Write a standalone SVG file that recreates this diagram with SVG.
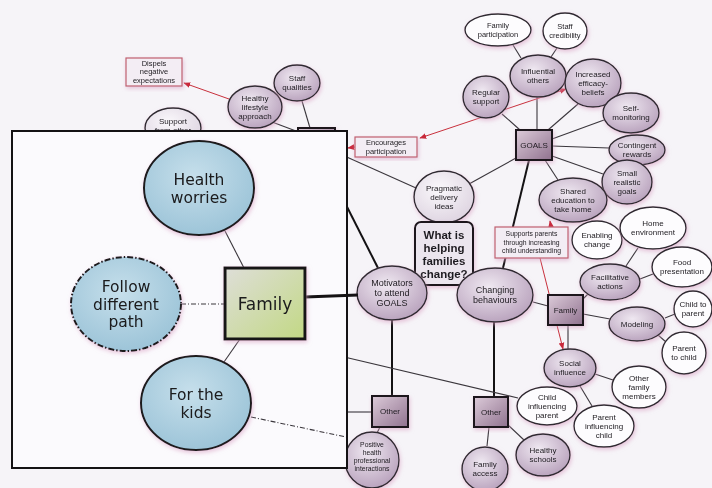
<svg xmlns="http://www.w3.org/2000/svg" width="712" height="488" viewBox="0 0 712 488">
  <defs>
    <radialGradient id="gP" cx="42%" cy="35%" r="70%">
      <stop offset="0" stop-color="#efe8f1"/>
      <stop offset="1" stop-color="#b7a0bb"/>
    </radialGradient>
    <radialGradient id="gL" cx="42%" cy="35%" r="70%">
      <stop offset="0" stop-color="#faf8fb"/>
      <stop offset="1" stop-color="#ddd3e0"/>
    </radialGradient>
    <linearGradient id="gB" x1="0" y1="0" x2="1" y2="1">
      <stop offset="0" stop-color="#dccbd9"/>
      <stop offset="1" stop-color="#90728f"/>
    </linearGradient>
    <radialGradient id="gBlue" cx="45%" cy="38%" r="70%">
      <stop offset="0" stop-color="#c6dfeb"/>
      <stop offset="1" stop-color="#98c1d6"/>
    </radialGradient>
    <linearGradient id="gFam" x1="0" y1="0" x2="1" y2="1">
      <stop offset="0" stop-color="#deded8"/>
      <stop offset="1" stop-color="#c2d884"/>
    </linearGradient>
    <filter id="halo" x="-20%" y="-20%" width="140%" height="140%">
      <feGaussianBlur in="SourceAlpha" stdDeviation="2" result="b"/>
      <feOffset in="b" dx="1" dy="1.5" result="o"/>
      <feFlood flood-color="#d9a2c4" flood-opacity="0.6"/>
      <feComposite operator="in" in2="o"/>
      <feMerge><feMergeNode/><feMergeNode in="SourceGraphic"/></feMerge>
    </filter>
    <marker id="ah" viewBox="0 0 10 10" refX="9" refY="5" markerWidth="7" markerHeight="7" orient="auto-start-reverse">
      <path d="M0,1 L10,5 L0,9 z" fill="#c8283a"/>
    </marker>
    <style>
      .p { fill: url(#gP); stroke: #2e2a30; stroke-width: 1.4; }
      .l { fill: url(#gL); stroke: #2e2a30; stroke-width: 1.4; }
      .w { fill: #fdfcfe; stroke: #2e2a30; stroke-width: 1.4; }
      .box { fill: url(#gB); stroke: #1c181e; stroke-width: 2; }
      .pink { fill: #f3edf4; stroke: #c0606e; stroke-width: 1.2; }
      .t { font-family: "Liberation Sans", Arial, sans-serif; font-size: 8px; fill: #1e1b20; text-anchor: middle; }
      .t9 { font-size: 9px; }
      .t7 { font-size: 7.5px; }
      .t6 { font-size: 6.8px; }
      .tq { font-size: 11.5px; font-weight: bold; }
      .ln { stroke: #3a363c; stroke-width: 1.1; fill: none; }
      .bk { stroke: #141214; stroke-width: 2; fill: none; }
      .red { stroke: #c8303c; stroke-width: 1; fill: none; }
      .blue { fill: url(#gBlue); stroke: #1c1a1e; stroke-width: 2; }
      .big { font-family: "DejaVu Sans", Verdana, sans-serif; font-size: 15.5px; fill: #1a1a1c; text-anchor: middle; }
      .big17 { font-size: 17px; }
      .nodes g { filter: url(#halo); }
    </style>
  </defs>

  <rect width="712" height="488" fill="#f6f4f8"/>

  <!-- main map connectors -->
  <g id="connectors">
    <line class="ln" x1="513" y1="45" x2="521" y2="58"/>
    <line class="ln" x1="557" y1="48" x2="551" y2="57"/>
    <line class="ln" x1="537" y1="97" x2="537" y2="130"/>
    <line class="ln" x1="502" y1="114" x2="520" y2="130"/>
    <line class="ln" x1="578" y1="104" x2="548" y2="130"/>
    <line class="ln" x1="604" y1="120" x2="552" y2="139"/>
    <line class="ln" x1="609" y1="148" x2="552" y2="146"/>
    <line class="ln" x1="603" y1="174" x2="552" y2="156"/>
    <line class="ln" x1="558" y1="180" x2="545" y2="160"/>
    <line class="ln" x1="469" y1="184" x2="516" y2="158"/>
    <line class="ln" x1="340" y1="154" x2="416" y2="188"/>
    <line class="bk" x1="529" y1="160" x2="503" y2="268"/>
    <line class="bk" x1="340" y1="193" x2="378" y2="268"/>
    <line class="bk" x1="392" y1="320" x2="392" y2="396"/>
    <line class="bk" x1="494" y1="322" x2="494" y2="397"/>
    <line class="ln" x1="533" y1="302" x2="548" y2="306"/>
    <line class="ln" x1="583" y1="299" x2="589" y2="293"/>
    <line class="ln" x1="583" y1="314" x2="610" y2="319"/>
    <line class="ln" x1="568" y1="325" x2="568" y2="349"/>
    <line class="ln" x1="626" y1="266" x2="638" y2="248"/>
    <line class="ln" x1="640" y1="279" x2="653" y2="274"/>
    <line class="ln" x1="665" y1="318" x2="675" y2="314"/>
    <line class="ln" x1="658" y1="335" x2="666" y2="342"/>
    <line class="ln" x1="595" y1="374" x2="613" y2="380"/>
    <line class="ln" x1="580" y1="386" x2="592" y2="406"/>
    <line class="ln" x1="489" y1="427" x2="487" y2="446"/>
    <line class="ln" x1="508" y1="425" x2="524" y2="440"/>
    <line class="ln" x1="380" y1="427" x2="377" y2="433"/>
    <line class="ln" x1="340" y1="412" x2="372" y2="412"/>
    <line class="ln" x1="340" y1="356" x2="518" y2="398" stroke-width="0.9"/>
    <line class="ln" x1="272" y1="122" x2="296" y2="131"/>
    <line class="ln" x1="302" y1="101" x2="310" y2="128"/>
    <!-- red relation arrows -->
    <line class="red" x1="229" y1="99" x2="184" y2="83" marker-end="url(#ah)"/>
    <line class="red" x1="420" y1="138" x2="566" y2="89" marker-start="url(#ah)" marker-end="url(#ah)"/>
    <line class="red" x1="355" y1="147" x2="348" y2="148" marker-end="url(#ah)"/>
    <line class="red" x1="551" y1="227" x2="550" y2="221" marker-end="url(#ah)"/>
    <line class="red" x1="540" y1="258" x2="563" y2="349" marker-end="url(#ah)"/>
  </g>

  <!-- main map nodes -->
  <g class="nodes">
    <g id="family-participation"><ellipse class="w" cx="498" cy="30" rx="33" ry="16"/>
      <text class="t t7" x="498" y="28.3">Family<tspan x="498" dy="9">participation</tspan></text></g>
    <g id="staff-credibility"><ellipse class="w" cx="565" cy="31" rx="22" ry="18"/>
      <text class="t t7" x="565" y="29.3">Staff<tspan x="565" dy="9">credibility</tspan></text></g>
    <g id="influential-others"><ellipse class="p" cx="538" cy="76" rx="28" ry="21"/>
      <text class="t" x="538" y="74.3">Influential<tspan x="538" dy="9">others</tspan></text></g>
    <g id="increased-efficacy"><ellipse class="p" cx="593" cy="83" rx="28" ry="24"/>
      <text class="t" x="593" y="76.8">Increased<tspan x="593" dy="9">efficacy-</tspan><tspan x="593" dy="9">beliefs</tspan></text></g>
    <g id="regular-support"><ellipse class="p" cx="486" cy="97" rx="23" ry="21"/>
      <text class="t" x="486" y="95.3">Regular<tspan x="486" dy="9">support</tspan></text></g>
    <g id="self-monitoring"><ellipse class="p" cx="631" cy="113" rx="28" ry="20"/>
      <text class="t" x="631" y="111.3">Self-<tspan x="631" dy="9">monitoring</tspan></text></g>
    <g id="contingent-rewards"><ellipse class="p" cx="637" cy="150" rx="28" ry="15"/>
      <text class="t" x="637" y="148.3">Contingent<tspan x="637" dy="9">rewards</tspan></text></g>
    <g id="small-goals"><ellipse class="p" cx="627" cy="182" rx="25" ry="22"/>
      <text class="t" x="627" y="175.8">Small<tspan x="627" dy="9">realistic</tspan><tspan x="627" dy="9">goals</tspan></text></g>
    <g id="goals"><rect class="box" x="516" y="130" width="36" height="30"/>
      <text class="t" x="534" y="147.8">GOALS</text></g>
    <g id="shared-education"><ellipse class="p" cx="573" cy="200" rx="34" ry="22"/>
      <text class="t" x="573" y="193.8">Shared<tspan x="573" dy="9">education to</tspan><tspan x="573" dy="9">take home</tspan></text></g>
    <g id="pragmatic-delivery"><ellipse class="l" cx="444" cy="197" rx="30" ry="26"/>
      <text class="t" x="444" y="190.8">Pragmatic<tspan x="444" dy="9">delivery</tspan><tspan x="444" dy="9">ideas</tspan></text></g>
    <g id="encourages-participation"><rect class="pink" x="355" y="137" width="62" height="20"/>
      <text class="t t7" x="386" y="145.3">Encourages<tspan x="386" dy="8.5">participation</tspan></text></g>
    <g id="dispels-expectations"><rect class="pink" x="126" y="58" width="56" height="28"/>
      <text class="t t7" x="154" y="65.8">Dispels<tspan x="154" dy="8.5">negative</tspan><tspan x="154" dy="8.5">expectations</tspan></text></g>
    <g id="healthy-lifestyle"><ellipse class="p" cx="255" cy="107" rx="27" ry="21"/>
      <text class="t" x="255" y="100.8">Healthy<tspan x="255" dy="9">lifestyle</tspan><tspan x="255" dy="9">approach</tspan></text></g>
    <g id="staff-qualities"><ellipse class="p" cx="297" cy="83" rx="23" ry="18"/>
      <text class="t" x="297" y="81.3">Staff<tspan x="297" dy="9">qualities</tspan></text></g>
    <g id="support-from-other"><ellipse class="l" cx="173" cy="128" rx="28" ry="20"/>
      <text class="t" x="173" y="124">Support<tspan x="173" dy="9">from other</tspan></text></g>
    <g id="staff-box"><rect class="box" x="298" y="128" width="37" height="30"/></g>
    <g id="what-is-helping"><rect x="415" y="222" width="58" height="63" rx="6" fill="#ebe5ee" stroke="#1c181e" stroke-width="2"/>
      <text class="t tq" x="444" y="238.5">What is<tspan x="444" dy="13">helping</tspan><tspan x="444" dy="13">families</tspan><tspan x="444" dy="13">change?</tspan></text></g>
    <g id="supports-parents"><rect class="pink" x="495" y="227" width="73" height="31"/>
      <text class="t t6" x="531.5" y="236">Supports parents<tspan x="531.5" dy="8.6">through increasing</tspan><tspan x="531.5" dy="8.6">child understanding</tspan></text></g>
    <g id="enabling-change"><ellipse class="w" cx="597" cy="240" rx="25" ry="19"/>
      <text class="t" x="597" y="238.3">Enabling<tspan x="597" dy="9">change</tspan></text></g>
    <g id="home-environment"><ellipse class="w" cx="653" cy="228" rx="33" ry="21"/>
      <text class="t" x="653" y="226.3">Home<tspan x="653" dy="9">environment</tspan></text></g>
    <g id="facilitative-actions"><ellipse class="p" cx="610" cy="282" rx="30" ry="18"/>
      <text class="t" x="610" y="280.3">Facilitative<tspan x="610" dy="9">actions</tspan></text></g>
    <g id="food-presentation"><ellipse class="w" cx="682" cy="267" rx="30" ry="20"/>
      <text class="t" x="682" y="265.3">Food<tspan x="682" dy="9">presentation</tspan></text></g>
    <g id="motivators"><ellipse class="p" cx="392" cy="293" rx="35" ry="27"/>
      <text class="t t9" x="392" y="286.2">Motivators<tspan x="392" dy="10">to attend</tspan><tspan x="392" dy="10">GOALS</tspan></text></g>
    <g id="changing-behaviours"><ellipse class="p" cx="495" cy="295" rx="38" ry="27"/>
      <text class="t t9" x="495" y="293.2">Changing<tspan x="495" dy="10">behaviours</tspan></text></g>
    <g id="family-box"><rect class="box" x="548" y="295" width="35" height="30"/>
      <text class="t" x="565.5" y="312.8">Family</text></g>
    <g id="modeling"><ellipse class="p" cx="637" cy="324" rx="28" ry="17"/>
      <text class="t" x="637" y="326.8">Modeling</text></g>
    <g id="child-to-parent"><ellipse class="w" cx="693" cy="309" rx="19" ry="18"/>
      <text class="t" x="693" y="307.3">Child to<tspan x="693" dy="9">parent</tspan></text></g>
    <g id="parent-to-child"><ellipse class="w" cx="684" cy="353" rx="22" ry="21"/>
      <text class="t" x="684" y="351.3">Parent<tspan x="684" dy="9">to child</tspan></text></g>
    <g id="social-influence"><ellipse class="p" cx="570" cy="368" rx="26" ry="19"/>
      <text class="t" x="570" y="366.3">Social<tspan x="570" dy="9">influence</tspan></text></g>
    <g id="other-family-members"><ellipse class="w" cx="639" cy="387" rx="27" ry="21"/>
      <text class="t" x="639" y="380.8">Other<tspan x="639" dy="9">family</tspan><tspan x="639" dy="9">members</tspan></text></g>
    <g id="child-influencing-parent"><ellipse class="w" cx="547" cy="406" rx="30" ry="19"/>
      <text class="t" x="547" y="399.8">Child<tspan x="547" dy="9">influencing</tspan><tspan x="547" dy="9">parent</tspan></text></g>
    <g id="parent-influencing-child"><ellipse class="w" cx="604" cy="426" rx="30" ry="21"/>
      <text class="t" x="604" y="419.8">Parent<tspan x="604" dy="9">influencing</tspan><tspan x="604" dy="9">child</tspan></text></g>
    <g id="other-motivators"><rect class="box" x="372" y="396" width="36" height="31"/>
      <text class="t" x="390" y="414.3">Other</text></g>
    <g id="other-behaviours"><rect class="box" x="474" y="397" width="34" height="30"/>
      <text class="t" x="491" y="414.8">Other</text></g>
    <g id="positive-health"><ellipse class="p" cx="372" cy="460" rx="27" ry="28"/>
      <text class="t t6" x="372" y="447">Positive<tspan x="372" dy="8">health</tspan><tspan x="372" dy="8">professional</tspan><tspan x="372" dy="8">interactions</tspan></text></g>
    <g id="family-access"><ellipse class="p" cx="485" cy="469" rx="23" ry="22"/>
      <text class="t" x="485" y="467">Family<tspan x="485" dy="9">access</tspan></text></g>
    <g id="healthy-schools"><ellipse class="p" cx="543" cy="455" rx="27" ry="21"/>
      <text class="t" x="543" y="453.3">Healthy<tspan x="543" dy="9">schools</tspan></text></g>
  </g>

  <!-- enlarged family detail panel -->
  <rect id="detail-panel" x="12" y="131" width="335" height="337" fill="#fbfafd" stroke="#141214" stroke-width="2"/>

  <g id="detail-connectors">
    <line class="ln" x1="225" y1="231" x2="244" y2="268" stroke-width="1.6"/>
    <line class="ln" x1="181" y1="304" x2="225" y2="304" stroke-width="1.6" stroke-dasharray="5 2 1 2"/>
    <line class="ln" x1="224" y1="362" x2="240" y2="339" stroke-width="1.6"/>
    <line x1="305" y1="297" x2="358" y2="295" stroke="#141214" stroke-width="3"/>
    <line class="ln" x1="251" y1="417" x2="346" y2="437" stroke-width="1.5" stroke-dasharray="5 2 1 2"/>
  </g>

  <g class="nodes">
    <g id="health-worries"><ellipse class="blue" cx="199" cy="188" rx="55" ry="47"/>
      <text class="big" x="199" y="185">Health<tspan x="199" dy="17.5">worries</tspan></text></g>
    <g id="follow-different-path"><ellipse class="blue" cx="126" cy="304" rx="55" ry="47" stroke-dasharray="6 2 1.5 2"/>
      <text class="big" x="126" y="292">Follow<tspan x="126" dy="17.5">different</tspan><tspan x="126" dy="17.5">path</tspan></text></g>
    <g id="family-detail"><rect x="225" y="268" width="80" height="71" fill="url(#gFam)" stroke="#141214" stroke-width="3"/>
      <text class="big big17" x="265" y="310">Family</text></g>
    <g id="for-the-kids"><ellipse class="blue" cx="196" cy="403" rx="55" ry="47"/>
      <text class="big" x="196" y="400">For the<tspan x="196" dy="17.5">kids</tspan></text></g>
  </g>
</svg>
